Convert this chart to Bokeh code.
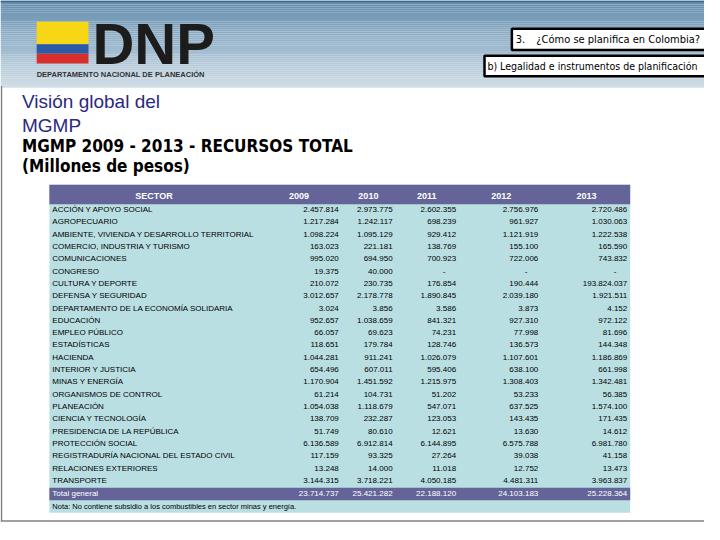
from bokeh.plotting import figure
from bokeh.models import Range1d
from bokeh.core.properties import value
from bokeh.embed import file_html
from bokeh.resources import INLINE

# ---------------- data ----------------
sectors = [
    "ACCIÓN Y APOYO SOCIAL",
    "AGROPECUARIO",
    "AMBIENTE, VIVIENDA Y DESARROLLO TERRITORIAL",
    "COMERCIO, INDUSTRIA Y TURISMO",
    "COMUNICACIONES",
    "CONGRESO",
    "CULTURA Y DEPORTE",
    "DEFENSA Y SEGURIDAD",
    "DEPARTAMENTO DE LA ECONOMÍA SOLIDARIA",
    "EDUCACIÓN",
    "EMPLEO PÚBLICO",
    "ESTADÍSTICAS",
    "HACIENDA",
    "INTERIOR Y JUSTICIA",
    "MINAS Y ENERGÍA",
    "ORGANISMOS DE CONTROL",
    "PLANEACIÓN",
    "CIENCIA Y TECNOLOGÍA",
    "PRESIDENCIA DE LA REPÚBLICA",
    "PROTECCIÓN SOCIAL",
    "REGISTRADURÍA NACIONAL DEL ESTADO CIVIL",
    "RELACIONES EXTERIORES",
    "TRANSPORTE",
]
years = ["2009", "2010", "2011", "2012", "2013"]
v2009 = ["2.457.814", "1.217.284", "1.098.224", "163.023", "995.020", "19.375", "210.072",
         "3.012.657", "3.024", "952.657", "66.057", "118.651", "1.044.281", "654.496",
         "1.170.904", "61.214", "1.054.038", "138.709", "51.749", "6.136.589", "117.159",
         "13.248", "3.144.315"]
v2010 = ["2.973.775", "1.242.117", "1.095.129", "221.181", "694.950", "40.000", "230.735",
         "2.178.778", "3.856", "1.038.659", "69.623", "179.784", "911.241", "607.011",
         "1.451.592", "104.731", "1.118.679", "232.287", "80.610", "6.912.814", "93.325",
         "14.000", "3.718.221"]
v2011 = ["2.602.355", "698.239", "929.412", "138.769", "700.923", "-", "176.854",
         "1.890.845", "3.586", "841.321", "74.231", "128.746", "1.026.079", "595.406",
         "1.215.975", "51.202", "547.071", "123.053", "12.621", "6.144.895", "27.264",
         "11.018", "4.050.185"]
v2012 = ["2.756.976", "961.927", "1.121.919", "155.100", "722.006", "-", "190.444",
         "2.039.180", "3.873", "927.310", "77.998", "136.573", "1.107.601", "638.100",
         "1.308.403", "53.233", "637.525", "143.435", "13.630", "6.575.788", "39.038",
         "12.752", "4.481.311"]
v2013 = ["2.720.486", "1.030.063", "1.222.538", "165.590", "743.832", "-", "193.824.037",
         "1.921.511", "4.152", "972.122", "81.696", "144.348", "1.186.869", "661.998",
         "1.342.481", "56.385", "1.574.100", "171.435", "14.612", "6.981.780", "41.158",
         "13.473", "3.963.837"]
totals = ["23.714.737", "25.421.282", "22.188.120", "24.103.183", "25.228.364"]
total_label = "Total general"
note = "Nota: No contiene subsidio a los combustibles en sector minas y energía."
header_sector = "SECTOR"

# ---------------- layout / styles ----------------
FONT = value("Liberation Sans")
NARROW = value("DejaVu Sans Condensed, Liberation Sans")
PURPLE = "#646498"
BODY = "#badfe3"

p = figure(width=704, height=524, x_range=Range1d(0, 720), y_range=Range1d(540, 0),
           output_backend="svg", toolbar_location=None, min_border=0)
p.axis.visible = False
p.grid.visible = False
p.outline_line_color = None
p.background_fill_color = "white"
p.border_fill_color = "white"

# banner gradient
n = 45
top_c = (100, 142, 175)
bot_c = (208, 222, 231)
lefts, rights, tops, bottoms, cols = [], [], [], [], []
for i in range(n):
    t = i / (n - 1)
    c = tuple(int(round(top_c[k] + (bot_c[k] - top_c[k]) * t)) for k in range(3))
    lefts.append(0); rights.append(720)
    tops.append(i * 2); bottoms.append(i * 2 + 2)
    cols.append("#%02x%02x%02x" % c)
p.quad(left=lefts, right=rights, top=tops, bottom=bottoms, fill_color=cols, line_color=None)
p.quad(left=[0], right=[720], top=[0], bottom=[2], fill_color="#3e6684", line_color=None)

# logo
p.quad(left=[37], right=[90], top=[22], bottom=[45], fill_color="#f6d615", line_color=None)
p.quad(left=[37], right=[90], top=[45], bottom=[55], fill_color="#2d5aa6", line_color=None)
p.quad(left=[37], right=[90], top=[55], bottom=[65], fill_color="#d7302c", line_color=None)
p.text(x=[94], y=[44], text=["DNP"], text_font=FONT, text_font_style="bold",
       text_font_size="58px", text_color="#1c1c1c", text_baseline="middle")
p.text(x=[37], y=[76], text=["DEPARTAMENTO NACIONAL DE PLANEACIÓN"], text_font=FONT,
       text_font_style="bold", text_font_size="7.5px", text_color="#333333",
       text_baseline="middle")

# section boxes
p.quad(left=[523], right=[730], top=[29], bottom=[51], fill_color="white",
       line_color="black", line_width=2.5)
p.quad(left=[495], right=[730], top=[57], bottom=[78], fill_color="white",
       line_color="black", line_width=2.5)
p.text(x=[527], y=[40], text=["3."], text_font=NARROW, text_font_size="11px",
       text_color="black", text_baseline="middle")
p.text(x=[548], y=[40], text=["¿Cómo se planifica en Colombia?"], text_font=NARROW,
       text_font_size="11px", text_color="black", text_baseline="middle")
p.text(x=[498], y=[68], text=["b) Legalidad e instrumentos de planificación"], text_font=NARROW,
       text_font_size="10.5px", text_color="black", text_baseline="middle")

# titles
p.text(x=[22], y=[104], text=["Visión global del"], text_font=FONT, text_font_size="19px",
       text_color="#2a2a7e", text_baseline="middle")
p.text(x=[22], y=[129], text=["MGMP"], text_font=FONT, text_font_size="19px",
       text_color="#2a2a7e", text_baseline="middle")
p.text(x=[22], y=[150], text=["MGMP 2009 - 2013 - RECURSOS TOTAL"], text_font=NARROW,
       text_font_style="bold", text_font_size="17px", text_color="black",
       text_baseline="middle")
p.text(x=[22], y=[171], text=["(Millones de pesos)"], text_font=NARROW,
       text_font_style="bold", text_font_size="17px", text_color="black",
       text_baseline="middle")

# table backgrounds
TL, TR = 50, 644
p.quad(left=[TL], right=[TR], top=[190], bottom=[528], fill_color=BODY, line_color=None)
p.quad(left=[TL], right=[TR], top=[190], bottom=[210], fill_color=PURPLE, line_color=None)
p.quad(left=[TL], right=[TR], top=[502], bottom=[515], fill_color=PURPLE, line_color=None)

# header texts
year_x = [295, 366, 426, 502, 589]
p.text(x=[157], y=[201], text=[header_sector], text_font=FONT, text_font_style="bold",
       text_font_size="9px", text_color="white", text_align="center", text_baseline="middle")
p.text(x=year_x, y=[201] * 5, text=years, text_font=FONT, text_font_style="bold",
       text_font_size="9px", text_color="white", text_baseline="middle")

# rows
row_y = [215.5 + i * 12.68 for i in range(len(sectors))]
p.text(x=[53] * len(sectors), y=row_y, text=sectors, text_font=FONT, text_font_size="8px",
       text_color="black", text_baseline="middle")

col_right = [346, 401, 466, 550, 641]
for cr, vals in zip(col_right, [v2009, v2010, v2011, v2012, v2013]):
    xs = [cr - 11 if v == "-" else cr for v in vals]
    p.text(x=xs, y=row_y, text=vals, text_font=FONT, text_font_size="8px",
           text_color="black", text_align="right", text_baseline="middle")

# totals
p.text(x=[53], y=[508.5], text=[total_label], text_font=FONT, text_font_size="8px",
       text_color="white", text_baseline="middle")
p.text(x=col_right, y=[508.5] * 5, text=totals, text_font=FONT, text_font_size="8px",
       text_color="white", text_align="right", text_baseline="middle")

# note
p.text(x=[53], y=[521.5], text=[note], text_font=FONT, text_font_size="7.5px",
       text_color="black", text_baseline="middle")

# slide frame lines
p.segment(x0=[1, 0], y0=[88, 536.5], x1=[1, 720], y1=[536.5, 536.5],
          line_color="#808080", line_width=1.5)

open("out.html", "w").write(file_html(p, INLINE))
